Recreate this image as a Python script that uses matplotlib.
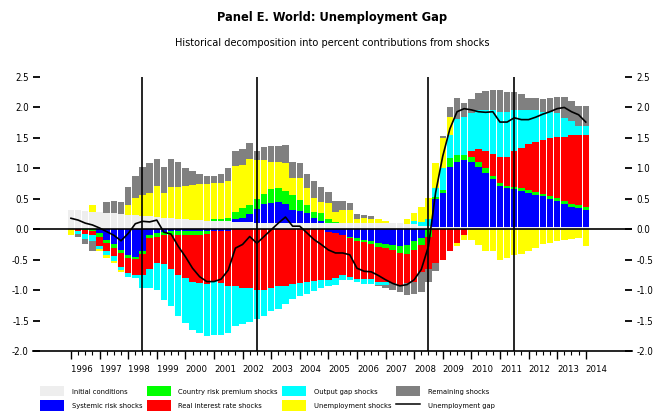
import matplotlib
matplotlib.use("Agg")
import matplotlib.pyplot as plt
import numpy as np
from matplotlib.patches import Patch
from matplotlib.lines import Line2D

plt.rcParams['font.family'] = ['DejaVu Sans']
plt.rcParams['font.stretch'] = 'condensed'
plt.rcParams['axes.unicode_minus'] = False

# quarterly, 1996Q1 .. 2014Q1
years = list(range(1996, 2015))

initial = [0.32, 0.31, 0.30, 0.29, 0.28, 0.27, 0.26, 0.25, 0.24, 0.23,
           0.22, 0.21, 0.20, 0.19, 0.18, 0.17, 0.16, 0.15, 0.15, 0.14,
           0.14, 0.13, 0.13, 0.12, 0.12, 0.12, 0.11, 0.11, 0.11, 0.11,
           0.10, 0.10, 0.10, 0.10, 0.10, 0.10, 0.10, 0.10, 0.10, 0.10,
           0.10, 0.10, 0.10, 0.10, 0.10, 0.10, 0.10, 0.09, 0.08, 0.06,
           0.05, 0.04, 0.04, 0.04, 0.04, 0.04, 0.04, 0.04, 0.04, 0.04,
           0.04, 0.04, 0.04, 0.04, 0.04, 0.04, 0.04, 0.04, 0.04, 0.04,
           0.04, 0.04, 0.04]
systemic = [0, 0, 0, 0, -0.07, -0.17, -0.25, -0.34, -0.42, -0.45,
            -0.36, -0.09, -0.06, -0.04, -0.03, -0.03, -0.03, -0.03, -0.03, -0.03,
            -0.03, -0.03, -0.03, 0.04, 0.06, 0.13, 0.22, 0.30, 0.32, 0.33,
            0.31, 0.21, 0.20, 0.16, 0.08, 0.03, -0.04, -0.06, -0.09, -0.12,
            -0.15, -0.17, -0.20, -0.22, -0.24, -0.26, -0.27, -0.26, -0.20, -0.15,
            0.0, 0.45, 0.55, 0.99, 1.07, 1.10, 1.07, 0.99, 0.88, 0.78,
            0.67, 0.64, 0.62, 0.59, 0.56, 0.53, 0.50, 0.46, 0.42, 0.38,
            0.33, 0.31, 0.28]
country = [0, 0, -0.02, -0.03, -0.05, -0.055, -0.055, -0.055, -0.055, -0.04,
           -0.055, -0.05, -0.06, -0.06, -0.06, -0.06, -0.06, -0.06, -0.06, -0.05,
           0.02, 0.03, 0.05, 0.13, 0.17, 0.15, 0.17, 0.17, 0.23, 0.23,
           0.22, 0.26, 0.18, 0.14, 0.11, 0.13, 0.06, 0.02, 0, -0.03,
           -0.04, -0.04, -0.05, -0.07, -0.07, -0.08, -0.12, -0.14, -0.14, -0.11,
           -0.12, 0.04, 0.05, 0.14, 0.11, 0.08, 0.07, 0.07, 0.08, 0.06,
           0.05, 0.03, 0.03, 0.04, 0.05, 0.04, 0.04, 0.05, 0.05, 0.05,
           0.05, 0.04, 0.04]
real_rate = [0, -0.03, -0.06, -0.07, -0.15, -0.14, -0.14, -0.22, -0.25, -0.26,
             -0.33, -0.52, -0.43, -0.47, -0.57, -0.66, -0.71, -0.77, -0.79, -0.82,
             -0.82, -0.85, -0.90, -0.93, -0.96, -0.97, -0.99, -0.99, -0.96, -0.93,
             -0.93, -0.90, -0.88, -0.86, -0.85, -0.84, -0.79, -0.74, -0.66, -0.63,
             -0.62, -0.61, -0.57, -0.57, -0.55, -0.55, -0.52, -0.49, -0.52, -0.44,
             -0.53, -0.55, -0.50, -0.36, -0.23, -0.10, 0.11, 0.22, 0.28, 0.35,
             0.43, 0.48, 0.59, 0.66, 0.75, 0.83, 0.89, 0.94, 1.00, 1.05,
             1.12, 1.15, 1.19]
output_gap = [0, -0.05, -0.08, -0.10, -0.05, -0.055, -0.08, -0.055, -0.055, -0.055,
              -0.22, -0.30, -0.44, -0.60, -0.60, -0.68, -0.74, -0.79, -0.82, -0.85,
              -0.88, -0.85, -0.77, -0.66, -0.60, -0.56, -0.49, -0.44, -0.38, -0.38,
              -0.30, -0.25, -0.22, -0.20, -0.16, -0.12, -0.11, -0.11, -0.08, -0.05,
              -0.05, -0.08, -0.08, -0.05, -0.05, 0, 0, 0, 0.05, 0.06,
              0.12, 0.15, 0.36, 0.38, 0.59, 0.62, 0.62, 0.63, 0.68, 0.72,
              0.74, 0.74, 0.67, 0.62, 0.55, 0.51, 0.46, 0.43, 0.40, 0.31,
              0.23, 0.15, 0.14]
unemp = [-0.10, 0, 0, 0.10, -0.04, -0.05, -0.03, -0.03, 0.16, 0.28,
         0.35, 0.39, 0.51, 0.40, 0.52, 0.53, 0.55, 0.58, 0.59, 0.61,
         0.60, 0.60, 0.62, 0.75, 0.71, 0.75, 0.64, 0.55, 0.45, 0.43,
         0.46, 0.27, 0.36, 0.28, 0.22, 0.18, 0.27, 0.17, 0.22, 0.22,
         0.07, 0.08, 0.07, 0.07, 0.03, 0.01, 0.01, 0.08, 0.14, 0.25,
         0.35, 0.40, 0.49, 0.30, -0.05, -0.08, -0.17, -0.26, -0.36, -0.36,
         -0.50, -0.47, -0.42, -0.41, -0.36, -0.31, -0.25, -0.23, -0.20, -0.17,
         -0.16, -0.15, -0.27]
remaining = [0, -0.05, -0.09, -0.16, 0, 0.17, 0.21, 0.20, 0.29, 0.37,
             0.45, 0.49, 0.45, 0.44, 0.45, 0.40, 0.30, 0.23, 0.17, 0.13,
             0.12, 0.15, 0.20, 0.25, 0.26, 0.26, 0.15, 0.22, 0.26, 0.27,
             0.30, 0.27, 0.24, 0.23, 0.28, 0.26, 0.18, 0.18, 0.15, 0.11,
             0.08, 0.06, 0.05, -0.02, -0.05, -0.11, -0.12, -0.19, -0.20, -0.33,
             -0.22, -0.13, 0.04, 0.15, 0.34, 0.24, 0.23, 0.29, 0.31, 0.34,
             0.35, 0.33, 0.30, 0.27, 0.21, 0.20, 0.21, 0.24, 0.26, 0.34,
             0.33, 0.34, 0.34]
gap = [0.18, 0.15, 0.10, 0.07, 0.02, -0.04, -0.10, -0.19, -0.07, 0.09,
       0.13, 0.12, 0.15, -0.05, -0.08, -0.28, -0.45, -0.64, -0.78, -0.86,
       -0.86, -0.82, -0.67, -0.31, -0.25, -0.12, -0.23, -0.12, -0.01, 0.10,
       0.20, 0.05, 0.05, -0.06, -0.17, -0.25, -0.34, -0.39, -0.39, -0.42,
       -0.64, -0.69, -0.70, -0.76, -0.83, -0.89, -0.93, -0.91, -0.83, -0.66,
       -0.28, 0.60, 1.20, 1.65, 1.93, 1.98, 1.96, 1.93, 1.92, 1.93,
       1.76, 1.76, 1.83, 1.80, 1.80, 1.84, 1.89, 1.93, 1.98, 2.00,
       1.93, 1.88, 1.76]

# vertical markers (quarter index)
events = [10, 26, 50, 62]

series = [
    ("Initial conditions", initial, "#eeeeee"),
    ("Systemic risk shocks", systemic, "#0000ff"),
    ("Country risk premium shocks", country, "#00ff00"),
    ("Real interest rate shocks", real_rate, "#ff0000"),
    ("Output gap shocks", output_gap, "#00ffff"),
    ("Unemployment shocks", unemp, "#ffff00"),
    ("Remaining shocks", remaining, "#808080"),
]

x = np.arange(len(gap))
fig = plt.figure(figsize=(6.64, 4.19), dpi=100)
ax = fig.add_axes([33/664, 1-351/419, (632-33)/664, (351-77)/419])

pos_base = np.zeros(len(x))
neg_base = np.zeros(len(x))
for name, vals, col in series:
    v = np.array(vals, dtype=float)
    p = np.where(v > 0, v, 0)
    n = np.where(v < 0, v, 0)
    ax.bar(x, p, bottom=pos_base, width=0.9, color=col, linewidth=0)
    ax.bar(x, n, bottom=neg_base, width=0.9, color=col, linewidth=0)
    pos_base += p
    neg_base += n

ax.plot(x, gap, color='black', lw=1.2, zorder=5)
ax.axhline(0, color='black', lw=1.2, zorder=4)
for e in events:
    ax.axvline(e, color='black', lw=1.2, zorder=4)

ax.set_xlim(-5.31, 78.47)
ax.set_ylim(-2.0, 2.5)
ax.set_yticks(np.arange(-2.0, 2.51, 0.5))
ax.set_yticklabels(["%.1f" % t for t in np.arange(-2.0, 2.51, 0.5)])
ax.tick_params(axis='y', direction='in', length=5, width=1.3, left=True, right=True,
               labelleft=True, labelright=True, labelsize=7, pad=3)

ax.set_xticks(np.arange(0, len(x), 4))
ax.set_xticklabels([str(y) for y in years])
ax.set_xticks(np.arange(0, len(x)), minor=True)
ax.tick_params(axis='x', which='major', direction='out', length=6, width=1.0, labelsize=6.8, pad=4)
ax.tick_params(axis='x', which='minor', direction='out', length=3, width=0.8)
for lab in ax.get_xticklabels():
    lab.set_ha('left')

for s in ['top', 'left', 'right']:
    ax.spines[s].set_visible(False)
ax.spines['bottom'].set_linewidth(1.2)

fig.text(0.5, 1-17/419, "Panel E. World: Unemployment Gap", ha='center', va='center',
         fontsize=9.2, fontweight='bold')
fig.text(0.5, 1-43/419, "Historical decomposition into percent contributions from shocks",
         ha='center', va='center', fontsize=7.8)

handles = []
labels = []
for name, vals, col in series:
    handles.append(Patch(facecolor=col, edgecolor='none'))
    labels.append(name)
handles.append(Line2D([0], [0], color='black', lw=1.1))
labels.append("Unemployment gap")

fs = 5.4
fpx = fs * 100 / 72
fig.legend(handles, labels, ncol=4, loc='upper left', bbox_to_anchor=(40/664, 1-386/419),
           frameon=False, fontsize=fs, handlelength=24/fpx, handleheight=13/fpx,
           handletextpad=8/fpx, columnspacing=4/fpx, labelspacing=4/fpx, borderpad=0,
           borderaxespad=0)

fig.savefig("out.png", dpi=100)
